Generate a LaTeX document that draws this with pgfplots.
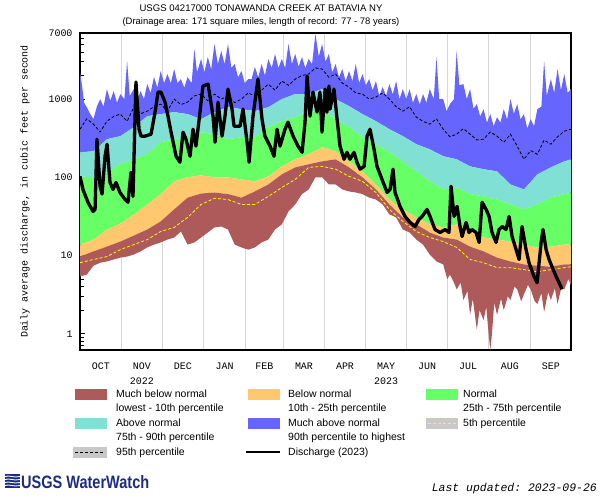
\documentclass[border=0pt]{standalone}
\usepackage{fontspec}
\setmainfont{Liberation Sans}
\setmonofont{Liberation Mono}
\usepackage{pgfplots}
\usepackage{pgfplotstable}
\pgfplotsset{compat=1.18}
\usepgfplotslibrary{fillbetween}

\definecolor{cBrown}{RGB}{174,90,90}
\definecolor{cOrange}{RGB}{255,200,110}
\definecolor{cGreen}{RGB}{102,255,102}
\definecolor{cCyan}{RGB}{128,224,212}
\definecolor{cBlue}{RGB}{102,102,255}
\definecolor{cGrid}{RGB}{215,215,215}
\definecolor{cSwatch}{RGB}{200,200,200}
\definecolor{cLogo}{RGB}{28,44,130}
\definecolor{cYellow}{RGB}{255,255,0}

% day of water year (0 = 1 Oct 2022), discharge in cubic feet per second
\pgfplotstableread{
d v
0 2218
1.5 1500
3 900
5 789
7.5 650
10 554
12.5 800
15 1000
17.5 800
20 1343
22.5 950
25 1268
27.5 900
30 1159
33 1000
35 3069
37 1100
40 1343
42.5 950
45 1268
47.5 1000
50 1556
52.5 1200
55 1914
57.5 1400
60 2285
62.5 1600
65 2094
67.5 1600
70 2425
72.5 1600
75 1803
77.5 1400
80 1914
83 1600
85 4375
87 2200
90 3258
92.5 2200
95 3455
97.5 2400
100 5072
102.5 2800
105 4121
107.5 2800
110 5072
112.5 2500
115 2811
117.5 1900
120 2285
122.5 1600
125 1803
127.5 1800
130 2573
132.5 1900
135 2811
137.5 2000
140 3258
142.5 2500
145 3776
147.5 2500
150 3258
152.5 2500
155 5072
157.5 2800
160 3776
162.5 2600
165 3455
167.5 2500
170 3258
172.5 2800
175 6810
177.5 3500
180 5072
182.5 3000
185 3776
187.5 2200
190 2811
192.5 1900
195 2425
197.5 1700
200 2285
202.5 1700
205 2811
207.5 1600
210 2094
212.5 1500
215 1803
217.5 1300
220 1702
222.5 1100
225 1425
227.5 1100
230 1556
232.5 1150
235 1702
237.5 1000
240 1343
242.5 1000
245 1343
247.5 900
250 1159
252.5 850
255 1159
257.5 900
260 1343
263 1000
265 3455
267 1000
270 1000
272.5 700
275 863
278 1000
280 4121
282 1500
285 1556
287.5 1000
290 1343
292.5 750
295 863
297.5 600
300 745
302.5 500
305 643
307.5 450
310 588
312.5 500
315 745
317.5 550
320 1000
322.5 650
325 863
327.5 550
330 643
332.5 420
335 554
337.5 450
340 745
343 800
345 3069
347 1100
350 1803
352.5 1200
355 2425
357.5 1300
360 2094
362.5 1200
365 1343
}\tmax

\pgfplotstableread{
d v
0 412
5 560
10 478
15 380
20 522
25 600
30 643
35 520
40 789
45 650
50 701
55 800
60 863
65 700
70 1000
75 850
80 916
85 1100
90 1159
95 950
100 1159
105 1000
110 1092
115 900
120 1000
125 1200
130 1092
135 1300
140 1556
145 1300
150 1702
155 1500
160 1803
165 2000
170 2094
175 2500
180 2425
185 1900
190 2094
195 1600
200 1425
205 1200
210 1159
215 1000
220 1062
225 1200
230 1000
235 800
240 701
245 800
250 588
255 520
260 478
265 560
270 412
275 330
280 356
285 420
290 356
295 300
300 307
305 380
310 336
315 280
320 356
325 250
330 170
335 220
340 197
345 300
350 265
355 330
360 389
365 412
}\tpninetyfive

\pgfplotstableread{
d v
0 209
10 215
20 307
30 336
40 438
50 605
60 643
70 681
80 643
90 554
100 681
110 789
120 745
130 701
140 789
150 1000
160 1159
170 1159
180 1343
190 1000
200 813
210 643
220 522
230 412
240 336
250 265
260 228
270 186
280 170
290 138
300 127
310 119
320 81
330 70
340 109
350 134
360 160
365 170
}\tpninety

\pgfplotstableread{
d v
0 103
10 100
20 116
30 147
40 170
50 197
60 281
70 307
80 326
90 378
100 356
110 307
120 326
130 326
140 438
150 522
160 588
170 681
180 745
190 554
200 438
210 326
220 265
230 209
240 160
250 119
260 89
270 70
280 74
290 61
300 57
310 52
320 45
330 38.9
340 45
350 55
360 61
365 64
}\tpseventyfive

\pgfplotstableread{
d v
0 13.8
10 16
20 21.5
30 25.7
40 33.6
50 45
60 61
70 89
80 100
90 106
100 100
110 100
120 94
130 89
140 103
150 138
160 170
170 197
180 243
190 215
200 160
210 119
220 81
230 52
240 38.9
250 30.7
260 25
270 22.9
280 25
290 20.3
300 17
310 16
320 15.1
330 13.8
340 12.7
350 13
360 13.8
365 13.8
}\tptwentyfive

\pgfplotstableread{
d v
0 9.7
10 11.3
20 13
30 15.1
40 18
50 21.5
60 27.3
70 38.9
80 55
90 62
100 64
110 61
120 55
130 66
140 81
150 109
160 134
170 147
180 160
190 170
200 134
210 100
220 70
230 45
240 30.7
250 25
260 19.7
270 17
280 16
290 13
300 11.3
310 9.4
320 8.4
330 7.7
340 7.4
350 7.2
360 7.7
365 7.7
}\tpten

\pgfplotstableread{
d v
0 8.1
10 8.9
20 9.7
30 11.9
40 13.8
50 16
60 20.3
70 22.9
80 30.7
90 45
100 54
110 52
120 45
130 45
140 57
150 74
160 94
170 134
180 138
190 127
200 103
210 89
220 64
230 38.9
240 27.3
250 20.3
260 17
270 15.1
280 12.7
290 8.9
300 8.1
310 7.0
320 7.0
330 6.6
340 6.2
350 6.6
360 7.0
365 7.2
}\tpfive

\pgfplotstableread{
d v
0 5.4
5 5.7
10 7.4
15 8.1
20 8.4
25 8.9
30 9.4
35 9.7
40 10.3
45 11.3
50 12.7
55 13.8
60 14.7
65 16
70 17
75 20.3
80 13.8
85 14.7
90 17
95 19.7
100 22.9
105 23.5
110 21.5
115 13.8
120 12.7
125 11.9
130 12.7
135 14.7
140 16
145 21.5
150 25
155 36.6
160 45
165 61
170 70
175 100
180 100
185 81
190 81
195 70
200 66
205 64
210 61
215 55
220 52
225 45
230 33.6
235 30.7
240 21.5
245 19.7
250 16
255 13.8
260 10.3
265 8.4
270 7.7
273 5.0
275 5.7
278 4.5
280 3.7
283 4.5
285 2.7
288 3.5
290 1.75
292 2.8
295 1.13
297 2.0
300 1.5
302 2.2
304 0.9
305 0.62
306 0.9
308 2.5
310 1.75
313 2.8
315 2.0
318 3.0
320 2.7
323 4.0
325 3.7
328 2.6
330 3.2
333 4.2
335 3.7
338 2.6
340 2.4
343 3.3
345 1.9
348 3.4
350 2.7
353 3.8
355 2.4
358 4.0
360 3.7
363 5.0
365 4.2
}\tmin

\pgfplotstableread{
d v
0 103
2.2 70
5.9 48
9.7 36.6
11.2 38.9
12.6 307
14.9 77
16.4 61
18.6 186
20.1 265
22.3 86
24.5 70
26.8 86
29.7 64
33.5 52
35.7 48
37.9 116
39.4 57
41.6 1652
43.9 412
45.4 336
48.3 336
52.8 356
55.8 681
58 1230
60.2 1230
63.2 916
65.4 605
67.7 378
71.4 186
74.3 156
76.6 378
78.8 307
81.8 186
84 412
86.2 250
89.2 681
91.4 1468
95.2 1556
98.9 605
100.4 281
102.6 916
105.6 336
107.8 605
110 1343
113 745
114.5 451
119 451
121.2 745
124.2 281
125.7 156
128.6 605
132.3 1803
135.3 554
137.5 336
141.3 250
144.2 186
146.5 412
148.7 250
152.4 412
154.6 507
158.4 336
162.1 250
165.1 209
167.3 507
168.8 1972
171 605
173.2 1230
176.2 681
178.4 1230
179.9 378
182.2 1343
183.6 681
185.1 1468
185.9 745
188.8 1343
191.1 554
193.3 250
196.3 170
198.5 209
200.7 170
203.7 209
205.9 156
208.2 127
211.2 138
213.4 336
215.6 412
218.6 228
220.8 138
224.5 94
228.3 64
230.5 70
232.7 127
234.2 64
237.9 42.5
241.6 31.6
245.4 26.5
249.1 23.5
252 29
254.3 31.6
258 38.9
260.2 31.6
263.9 21.5
267.7 19.7
271.4 21.5
274.3 19.7
275.8 77
278.1 31.6
280.3 42.5
282.5 23.5
284 17.5
287 26.5
289.2 19.7
291.4 21.5
294.4 19.7
296.7 14.7
298.9 48
301.9 38.9
304.1 31.6
306.3 19.7
309.3 14.7
311.5 21.5
313.8 23.5
316.7 21.5
319 31.6
321.2 17.5
324.2 11.9
326.4 8.9
328.6 23.5
331.6 11.9
333.8 8.1
337.5 5.4
339.8 4.5
342.8 14.7
344.2 21.5
346.5 11.9
348.7 8.9
350.9 7.2
353.9 5.4
356.1 4.5
358.4 3.7
}\tq

\begin{document}
\begin{tikzpicture}
\path (0,0) rectangle (600bp,500bp);
\begin{axis}[
  at={(80bp,150bp)}, anchor=south west,
  width=491bp, height=317bp, scale only axis,
  ymode=log, xmin=0, xmax=365, ymin=0.62, ymax=7000,
  ytick={1,10,100,1000,7000}, yticklabels={1,10,100,1000,7000},
  minor ytick={0.7,0.8,0.9,2,3,4,5,6,7,8,9,20,30,40,50,60,70,80,90,200,300,400,500,600,700,800,900,2000,3000,4000,5000,6000},
  xtick={0,31,61,92,123,151,182,212,243,273,304,335,365},
  xticklabels={},
  xmajorgrids, major x grid style={cGrid, line width=1bp},
  x tick style={cGrid, line width=1bp},
  extra x ticks={15.5,46,76.5,107.5,137,166.5,197,227.5,258,288.5,319.5,350},
  extra x tick labels={OCT,{NOV\\2022},DEC,JAN,FEB,MAR,APR,{MAY\\2023},JUN,JUL,AUG,SEP},
  extra x tick style={grid=none, major tick length=0pt},
  x tick label style={font=\fontsize{10}{15}\selectfont\ttfamily, align=center, anchor=north, yshift=-9bp},
  y tick label style={font=\fontsize{10}{12}\selectfont\ttfamily, xshift=-4bp},
  /pgf/number format/assume math mode=true,
  ytick pos=left, xtick pos=bottom,
  tick align=inside,
  major tick length=5bp, minor tick length=4bp,
  y tick style={black, line width=0.8bp},
  axis line style={line width=1.2bp},
]
\addplot[name path=pmax, draw=none] table[x=d, y=v] {\tmax};
\addplot[name path=p90, draw=none] table[x=d, y=v] {\tpninety};
\addplot[name path=p75, draw=none] table[x=d, y=v] {\tpseventyfive};
\addplot[name path=p25, draw=none] table[x=d, y=v] {\tptwentyfive};
\addplot[name path=p10, draw=none] table[x=d, y=v] {\tpten};
\addplot[name path=pmin, draw=none] table[x=d, y=v] {\tmin};
\addplot[fill=cBlue, draw=none] fill between[of=pmax and p90];
\addplot[fill=cCyan, draw=none] fill between[of=p90 and p75];
\addplot[fill=cGreen, draw=none] fill between[of=p75 and p25];
\addplot[fill=cOrange, draw=none] fill between[of=p25 and p10];
\addplot[fill=cBrown, draw=none] fill between[of=p10 and pmin];
\addplot[black, line width=0.8bp, dash pattern=on 3bp off 2bp] table[x=d, y=v] {\tpninetyfive};
\addplot[cYellow, line width=0.8bp, dash pattern=on 3bp off 2bp] table[x=d, y=v] {\tpfive};
\addplot[black, line width=3.3bp, line join=round] table[x=d, y=v] {\tq};
\end{axis}

% titles
\node[anchor=base, font=\fontsize{9.6}{11}\selectfont] at (261bp,488.5bp) {USGS 04217000 TONAWANDA CREEK AT BATAVIA NY};
\node[anchor=base, font=\fontsize{9.5}{11}\selectfont] at (261bp,475.5bp) {(Drainage area: 171 square miles, length of record: 77 - 78 years)};
% y label
\node[rotate=90, font=\fontsize{10}{12}\selectfont\ttfamily] at (25bp,308.5bp) {Daily average discharge, in cubic feet per second};

% legend
\begin{scope}[every node/.style={anchor=base west, inner sep=0pt, font=\fontsize{10.5}{12}\selectfont}]
\fill[cBrown] (75bp,100bp) rectangle (107bp,111bp);
\node at (116bp,102bp) {Much below normal};
\node at (116bp,88bp) {lowest - 10th percentile};
\fill[cOrange] (248bp,100bp) rectangle (280bp,111bp);
\node at (288bp,102bp) {Below normal};
\node at (288bp,88bp) {10th - 25th percentile};
\fill[cGreen] (426bp,100bp) rectangle (458bp,111bp);
\node at (463bp,102bp) {Normal};
\node at (463bp,88bp) {25th - 75th percentile};
\fill[cCyan] (75bp,71bp) rectangle (107bp,82bp);
\node at (116bp,73bp) {Above normal};
\node at (116bp,59bp) {75th - 90th percentile};
\fill[cBlue] (248bp,71bp) rectangle (280bp,82bp);
\node at (288bp,73bp) {Much above normal};
\node at (288bp,59bp) {90th percentile to highest};
\fill[cSwatch] (426bp,71bp) rectangle (458bp,82bp);
\draw[cYellow, line width=0.8bp, dash pattern=on 3bp off 2bp] (428bp,76.5bp) -- (456bp,76.5bp);
\node at (463bp,73bp) {5th percentile};
\fill[cSwatch] (73bp,42bp) rectangle (107bp,53bp);
\draw[black, line width=0.8bp, dash pattern=on 3bp off 2bp] (75bp,47.5bp) -- (105bp,47.5bp);
\node at (116bp,44bp) {95th percentile};
\draw[black, line width=2bp] (246bp,48bp) -- (280bp,48bp);
\node at (288bp,44bp) {Discharge (2023)};
\end{scope}

% logo
\begin{scope}
\fill[cLogo] (5bp,12bp) rectangle (20bp,26bp);
\foreach \yy in {14.5,17.5,20.5,23.5}{
  \draw[white, line width=0.9bp] (5bp,\yy bp) .. controls (9bp,\yy bp+1.8bp) and (14bp,\yy bp-1.8bp) .. (20bp,\yy bp);
}
\node[anchor=base west, inner sep=0pt, text=cLogo, font=\fontsize{18}{20}\selectfont\bfseries] at (21bp,12bp) {\scalebox{0.81}[1]{USGS WaterWatch}};
\end{scope}
\node[anchor=base east, inner sep=0pt, font=\fontsize{11.5}{13}\selectfont\ttfamily\itshape] at (597bp,9bp) {Last updated: 2023-09-26};
\end{tikzpicture}
\end{document}
